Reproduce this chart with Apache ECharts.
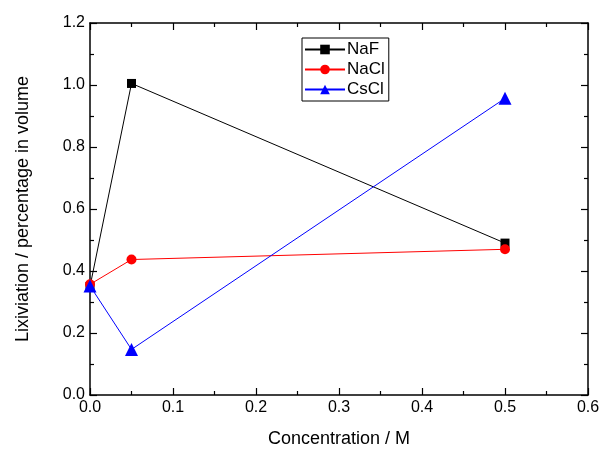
<!DOCTYPE html>
<html>
<head>
<meta charset="utf-8">
<script src="https://cdn.jsdelivr.net/npm/echarts@6/dist/echarts.min.js"></script>
<style>
  html, body { margin: 0; padding: 0; background: #fff; }
  #chart { width: 603px; height: 453px; }
</style>
</head>
<body>
<div id="chart"></div>
<script>
// 浓度 (M)
const concentration = [0, 0.05, 0.5];
const naF = [0.35, 1.005, 0.49];
const naCl = [0.357, 0.437, 0.47];
const csCl = [0.352, 0.147, 0.957];

const font = 'Liberation Sans, Arial, sans-serif';

function pairs(vals) {
  return concentration.map((c, i) => [c, vals[i]]);
}

// 边框上的刻度(上/右),不要贴到零点
const tickOnly = {
  axisLine: { show: true, onZero: false, lineStyle: { color: '#000', width: 1.5 } },
  axisTick: { show: true, inside: true, length: 7, lineStyle: { color: '#000', width: 1.2 } },
  minorTick: { show: true, splitNumber: 2, length: 4, lineStyle: { color: '#000', width: 1.2 } },
  axisLabel: { show: false },
  splitLine: { show: false }
};

let myChart = echarts.init(document.getElementById('chart'));
myChart.setOption({
  animation: false,
  grid: { left: 90, top: 23, right: 15, bottom: 57 },
  legend: {
    data: ['NaF', 'NaCl', 'CsCl'],
    orient: 'vertical',
    left: 302,
    top: 38,
    itemWidth: 40,
    itemHeight: 12,
    itemGap: 3,
    borderColor: '#000',
    borderWidth: 1,
    borderRadius: 0,
    padding: [3, 4, 3, 2],
    textStyle: { fontFamily: font, fontSize: 17, color: '#000', padding: [0, 0, 0, -3] }
  },
  xAxis: [{
    type: 'value',
    min: 0,
    max: 0.6,
    interval: 0.1,
    name: 'Concentration / M',
    nameLocation: 'middle',
    nameGap: 35,
    nameTextStyle: { fontFamily: font, fontSize: 18, color: '#000' },
    axisLine: { onZero: false, lineStyle: { color: '#000', width: 1.5 } },
    axisTick: { inside: true, length: 7, lineStyle: { color: '#000', width: 1.2 } },
    minorTick: { show: true, splitNumber: 2, length: 4, lineStyle: { color: '#000', width: 1.2 } },
    axisLabel: { fontFamily: font, fontSize: 16, color: '#000', margin: 5, formatter: v => v.toFixed(1) },
    splitLine: { show: false }
  }, Object.assign({ type: 'value', position: 'top', min: 0, max: 0.6, interval: 0.1 }, tickOnly)],
  yAxis: [{
    type: 'value',
    min: 0,
    max: 1.2,
    interval: 0.2,
    name: 'Lixiviation / percentage in volume',
    nameLocation: 'middle',
    nameGap: 58,
    nameTextStyle: { fontFamily: font, fontSize: 18, color: '#000' },
    axisLine: { onZero: false, lineStyle: { color: '#000', width: 1.5 } },
    axisTick: { inside: true, length: 7, lineStyle: { color: '#000', width: 1.2 } },
    minorTick: { show: true, splitNumber: 2, length: 4, lineStyle: { color: '#000', width: 1.2 } },
    axisLabel: { fontFamily: font, fontSize: 16, color: '#000', margin: 5, formatter: v => v.toFixed(1) },
    splitLine: { show: false }
  }, Object.assign({ type: 'value', position: 'right', min: 0, max: 1.2, interval: 0.2 }, tickOnly)],
  series: [
    {
      name: 'NaF', type: 'line', data: pairs(naF),
      symbol: 'rect', symbolSize: 9,
      itemStyle: { color: '#000' },
      lineStyle: { color: '#000', width: 1 }
    },
    {
      name: 'NaCl', type: 'line', data: pairs(naCl),
      symbol: 'circle', symbolSize: 10,
      itemStyle: { color: '#ff0000' },
      lineStyle: { color: '#ff0000', width: 1 }
    },
    {
      name: 'CsCl', type: 'line', data: pairs(csCl),
      symbol: 'triangle', symbolSize: 13,
      itemStyle: { color: '#0000ff' },
      lineStyle: { color: '#0000ff', width: 1 }
    }
  ]
});
</script>
</body>
</html>
